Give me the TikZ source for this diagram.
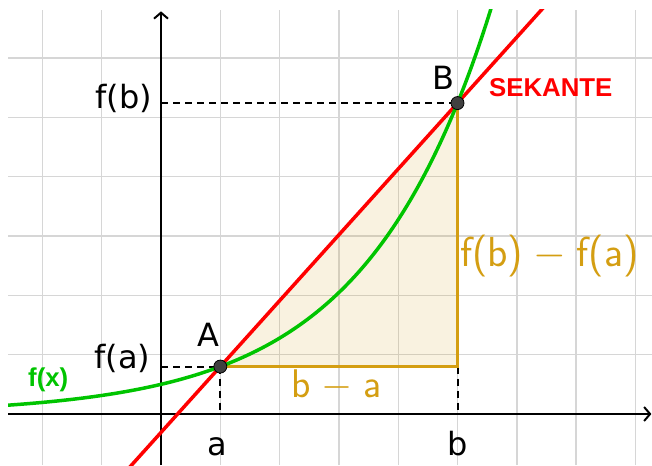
\documentclass[tikz,border=0pt]{standalone}
\usepackage{fix-cm}
\usepackage{fontspec}
\newfontfamily\dejavu{DejaVu Sans}
\newfontfamily\libsans{Liberation Sans}
\usetikzlibrary{arrows.meta}
\definecolor{gridgray}{RGB}{214,214,214}
\definecolor{ggred}{RGB}{255,0,0}
\definecolor{gggreen}{RGB}{0,196,0}
\definecolor{gggold}{RGB}{212,158,18}
\definecolor{ptgray}{RGB}{64,64,64}
\tikzset{
  gridline/.style={draw=gridgray, line width=1.4pt},
  axisline/.style={draw=black, line width=2pt, -{Straight Barb[length=6pt,width=14pt]}},
  guide/.style={draw=black, line width=2pt, dash pattern=on 7pt off 5pt},
  goldline/.style={draw=gggold, line width=3pt},
  secline/.style={draw=ggred, line width=3.5pt},
  fline/.style={draw=gggreen, line width=3.5pt},
  ptstyle/.style={circle, fill=ptgray, draw=black, line width=0.8pt, minimum size=13pt, inner sep=0pt},
  blacklabel/.style={inner sep=0pt, font=\dejavu\fontsize{32}{38}\selectfont},
  goldlabel/.style={inner sep=0pt, text=gggold, font=\sffamily\fontsize{40}{48}\selectfont},
  goldbig/.style={inner sep=0pt, text=gggold, font=\sffamily\fontsize{42}{50}\selectfont},
  boldlabel/.style={inner sep=0pt, font=\libsans\bfseries\fontsize{25.8}{30}\selectfont}
}
\begin{document}
\begin{tikzpicture}[x=59.3pt,y=59.3pt]
\useasboundingbox (-2.7150,-0.8600) rectangle (8.2799,6.9815);
% grid
\begin{scope}
\clip (-2.58,-0.86) rectangle (8.2799,6.813);
\foreach \gx in {-2,-1,1,2,3,4,5,6,7,8} \draw[gridline] (\gx,-0.86) -- (\gx,6.813);
\foreach \gy in {1,2,3,4,5,6} \draw[gridline] (-2.58,\gy) -- (8.2799,\gy);
\end{scope}
% key points
\coordinate (A) at (1,0.8);
\coordinate (B) at (5,5.24288);
\coordinate (C) at (5,0.8);
\coordinate (Ay) at (0,0.8);
\coordinate (By) at (0,5.24288);
\coordinate (Ax) at (1,0);
\coordinate (Cx) at (5,0);
\coordinate (xl) at (-2.58,0);
\coordinate (xr) at (8.27,0);
\coordinate (yb) at (0,-0.86);
\coordinate (yt) at (0,6.79);
% triangle fill
\fill[gggold, fill opacity=0.13] (A) -- (C) -- (B) -- cycle;
% axes
\draw[axisline] (xl) -- (xr);
\draw[axisline] (yb) -- (yt);
% guides
\draw[guide] (By) -- (B);
\draw[guide] (Ay) -- (A);
\draw[guide] (A) -- (Ax);
\draw[guide] (C) -- (Cx);
% gold legs
\draw[goldline, line cap=rect] (A) -- (C) -- (B);
% secant and curve
\begin{scope}
\clip (-2.58,-0.86) rectangle (8.2799,6.813);
\draw[secline] (-0.6,{0.8+1.11072*(-1.6)}) -- (6.6,{0.8+1.11072*5.6});
\draw[fline] plot[domain=-2.6:5.62, samples=160, smooth] (\x,{0.5*exp(0.4700036*\x)});
\end{scope}
% points
\node[ptstyle] (pA) at (A) {};
\node[ptstyle] (pB) at (B) {};
% labels
\node[blacklabel, anchor=base east] (lfb) at (-0.145,5.16) {f(b)};
\node[blacklabel, anchor=base east] (lfa) at (-0.178,0.759) {f(a)};
\node[blacklabel, anchor=base] (lA) at (0.80,1.13) {A};
\node[blacklabel, anchor=base] (lB) at (4.755,5.464) {B};
\node[blacklabel, anchor=base] (la) at (0.953,-0.708) {a};
\node[blacklabel, anchor=base] (lb) at (5.0,-0.708) {b};
\node[boldlabel, text=ggred, anchor=base west] (lsek) at (5.53,5.35) {SEKANTE};
\node[boldlabel, text=gggreen, anchor=base west] (lfx) at (-2.243,0.47) {f(x)};
\node[goldlabel, anchor=base] (lba) at (2.96,0.27) {b\hspace{0.26em}$-$\hspace{0.26em}a};
\node[goldbig, anchor=base west] (ldiff) at (5.04,2.485) {f(b)\hspace{0.25em}$-$\hspace{0.25em}f(a)};
\end{tikzpicture}
\end{document}
